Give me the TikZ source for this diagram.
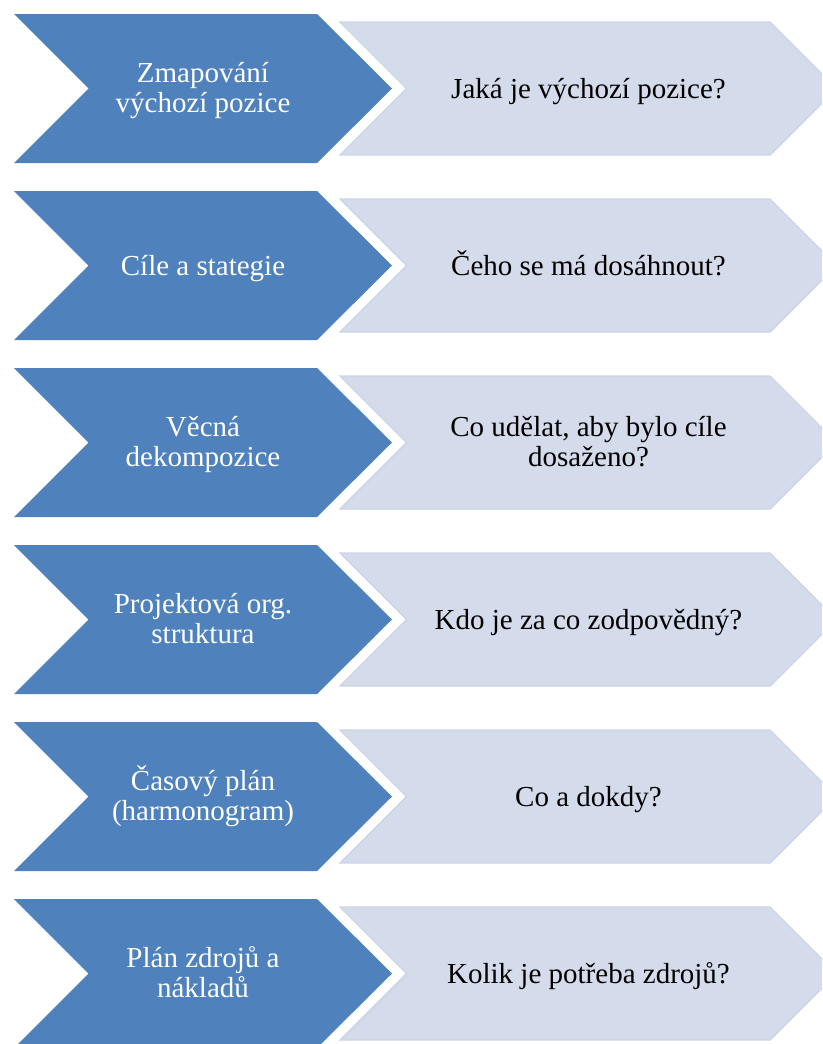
\documentclass[tikz,border=0pt]{standalone}
\usepackage{fontspec}
\setmainfont{Liberation Serif}
\definecolor{stepblue}{HTML}{4F81BD}
\definecolor{qfill}{HTML}{D4DBEB}
\definecolor{qline}{HTML}{CDD4E7}
\newcommand\twolines[2]{\begin{tabular}[t]{@{}c@{}}#1\\#2\end{tabular}}
\begin{document}
\begin{tikzpicture}[x=1pt,y=-1pt,
  darkarrow/.style={fill=stepblue},
  lightarrow/.style={fill=qfill,draw=qline,line width=1.4pt,line join=miter},
  lbl/.style={anchor=base,inner sep=0pt,font=\fontsize{29}{30}\selectfont},
  darktext/.style={lbl,text=white},
  lighttext/.style={lbl,text=black}]
\useasboundingbox (0,0) rectangle (822,1044);
\clip (0,0) rectangle (822,1044);
% six rows of stage / question chevrons, 177pt apart
\foreach \t [count=\i] in {14,191,368,545,722,899}{
  \pgfmathsetmacro\c{\t+74.5}
  \pgfmathsetmacro\b{\t+149}
  \pgfmathsetmacro\lt{\t+8}
  \pgfmathsetmacro\lb{\t+141}
  \path[darkarrow] (14,\t) -- (317,\t) -- (392,\c) -- (317,\b) -- (14,\b) -- (88.5,\c) -- cycle;
  \path[lightarrow] (340,\lt) -- (770,\lt) -- (836.5,\c) -- (770,\lb) -- (340,\lb) -- (406.5,\c) -- cycle;
}
% stage names (left) and questions (right)
\node[darktext] (s1) at (203,82.7) {\twolines{Zmapování}{výchozí pozice}};
\node[lighttext] (q1) at (588.5,98) {Jaká je výchozí pozice?};
\node[darktext] (s2) at (203,275) {Cíle a stategie};
\node[lighttext] (q2) at (588.5,275) {Čeho se má dosáhnout?};
\node[darktext] (s3) at (203,436.7) {\twolines{Věcná}{dekompozice}};
\node[lighttext] (q3) at (588.5,436.7) {\twolines{Co udělat, aby bylo cíle}{dosaženo?}};
\node[darktext] (s4) at (203,613.7) {\twolines{Projektová org.}{struktura}};
\node[lighttext] (q4) at (588.5,629) {Kdo je za co zodpovědný?};
\node[darktext] (s5) at (203,790.7) {\twolines{Časový plán}{(harmonogram)}};
\node[lighttext] (q5) at (588.5,806) {Co a dokdy?};
\node[darktext] (s6) at (203,967.7) {\twolines{Plán zdrojů a}{nákladů}};
\node[lighttext] (q6) at (588.5,983) {Kolik je potřeba zdrojů?};
\end{tikzpicture}
\end{document}
